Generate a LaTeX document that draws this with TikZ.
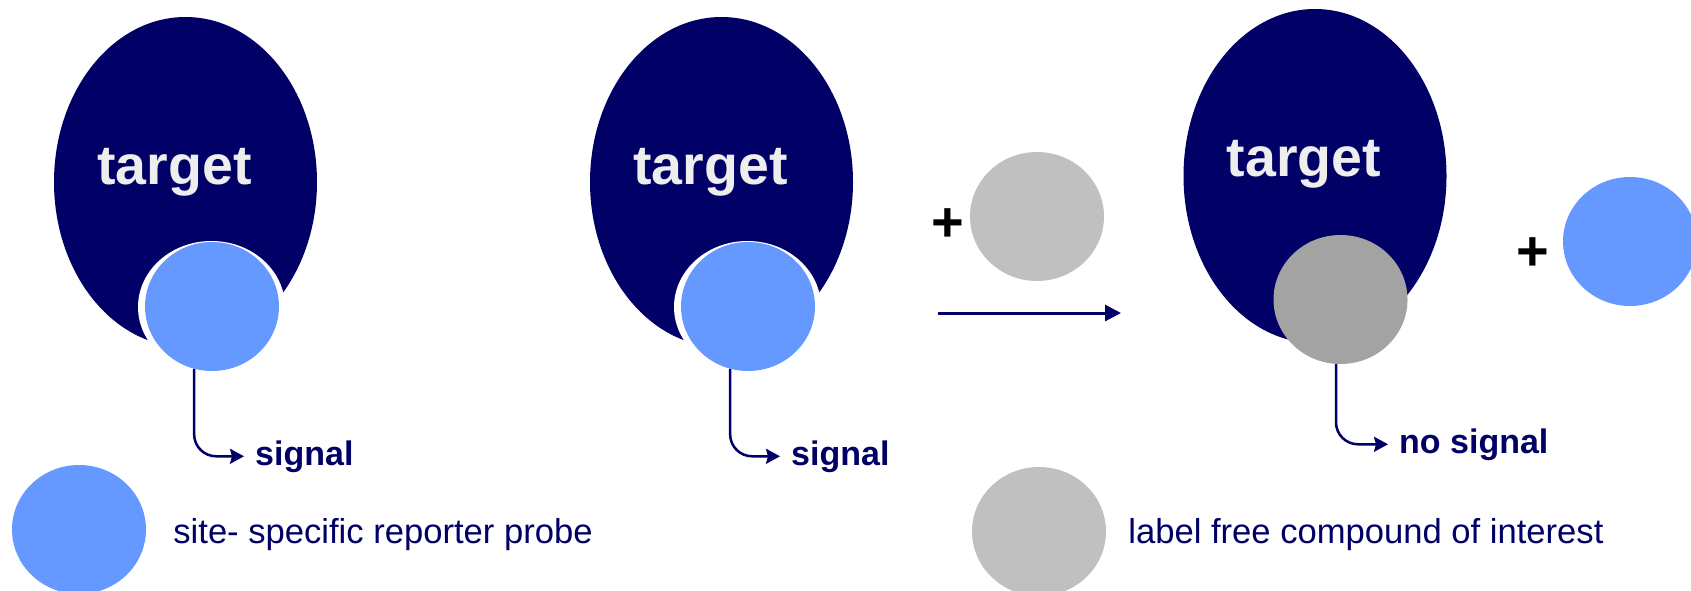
\documentclass[tikz,border=0pt]{standalone}
\usepackage{fontspec}
\setmainfont{Liberation Sans}
\usetikzlibrary{shapes.geometric, arrows.meta, positioning, calc}
\definecolor{navy}{RGB}{0,0,102}
\definecolor{probeblue}{RGB}{102,153,255}
\definecolor{cmpgray}{RGB}{192,192,192}
\definecolor{boundgray}{RGB}{163,163,163}
\definecolor{tgttext}{RGB}{238,238,238}
\tikzset{
    tgtblob/.style={ellipse, fill=navy, minimum width=263pt, minimum height=330pt, inner sep=0pt},
    blob/.style={ellipse, minimum width=134pt, minimum height=129pt, inner sep=0pt},
    probe/.style={blob, fill=probeblue},
    cmpd/.style={blob, fill=cmpgray},
    ringblob/.style={ellipse, fill=white, minimum width=147pt, minimum height=132pt, inner sep=0pt},
    sigarrow/.style={-{Stealth[length=14pt, width=15pt, inset=2pt]}, line width=2.5pt, navy, rounded corners=22pt},
    rxnarrow/.style={-{Triangle[length=16pt, width=16pt]}, line width=3pt, navy},
}

\begin{document}
\begin{tikzpicture}[
    x=1pt, y=-1pt,
    tgtlabel/.style={font={\fontsize{55.5}{60}\selectfont\bfseries}, text=tgttext, inner sep=0pt, anchor=base},
    siglabel/.style={font={\fontsize{34}{40}\selectfont\bfseries}, text=navy, inner xsep=11pt, inner ysep=0pt, anchor=base west},
    legtext/.style={font={\fontsize{34.6}{40}\selectfont}, text=navy, inner sep=0pt},
    plussign/.style={font={\fontsize{56}{60}\selectfont\bfseries}, inner sep=0pt, anchor=base},
]
\useasboundingbox (0,0) rectangle (1691,591);

% bound probe
\node[tgtblob] (e1) at (185.5,182) {};
\node[tgtlabel] (t1) at ($(e1.center)+(-11,2)$) {target};
\node[ringblob] (r1) at ($(e1.center)+(26,125)$) {};
\node[probe] (p1) at ($(e1.center)+(26.5,124.5)$) {};
\node[siglabel] (sig1) at (244,465) {signal};
\draw[sigarrow] (p1.-106) |- (sig1.west);

% bound probe + compound
\node[tgtblob] (e2) at (721.5,182) {};
\node[tgtlabel] (t2) at ($(e2.center)+(-11,2)$) {target};
\node[ringblob] (r2) at ($(e2.center)+(26,125)$) {};
\node[probe] (p2) at ($(e2.center)+(26.5,124.5)$) {};
\node[siglabel] (sig2) at (780,465) {signal};
\draw[sigarrow] (p2.-106) |- (sig2.west);

\node[plussign] (plus1) at (948,241) {+};
\node[cmpd] (g1) at (1037,216.5) {};
\coordinate (rxa) at (938,313);
\coordinate (rxb) at (1121,313);
\draw[rxnarrow] (rxa) -- (rxb);

% compound displaces probe
\node[tgtblob, minimum height=334pt] (e3) at (1315,176) {};
\node[tgtlabel] (t3) at ($(e3.center)+(-11,0)$) {target};
\node[blob, fill=boundgray] (d3) at ($(e3.center)+(25.5,123.5)$) {};
\node[siglabel] (nosig) at (1388,453) {no signal};
\draw[sigarrow] (d3.-94) |- (nosig.west);

\node[plussign] (plus2) at (1533,270) {+};
\node[probe] (b3) at (1630,241.5) {};

% legend
\node[probe] (l1) at (79,529.5) {};
\node[legtext, right=27pt of l1, yshift=-5pt] (lt1) {site- specific reporter probe};
\node[cmpd] (l2) at (1039,531.5) {};
\node[legtext, right=22pt of l2, yshift=-3pt] (lt2) {label free compound of interest};

\end{tikzpicture}
\end{document}
